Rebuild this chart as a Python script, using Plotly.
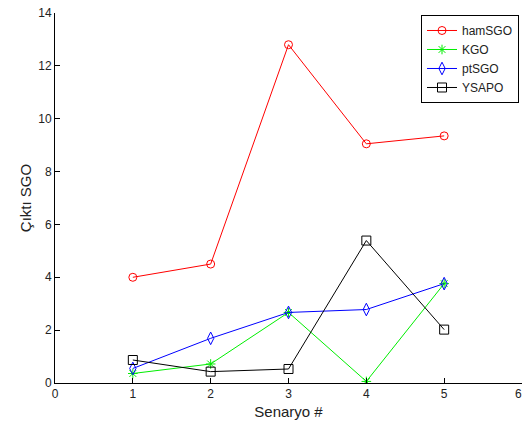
import plotly.graph_objects as go

scenarios = [1, 2, 3, 4, 5]
ham_sgo = [4.0, 4.5, 12.8, 9.05, 9.35]
kgo = [0.36, 0.72, 2.67, 0.06, 3.76]
pt_sgo = [0.55, 1.69, 2.67, 2.78, 3.76]
ysapo = [0.87, 0.43, 0.53, 5.39, 2.02]

x_ticks = [0, 1, 2, 3, 4, 5, 6]
y_ticks = [0, 2, 4, 6, 8, 10, 12, 14]

series = [
    ("hamSGO", ham_sgo, "#ff0000", "circle-open", 8),
    ("KGO", kgo, "#00ee00", "asterisk-open", 8),
    ("ptSGO", pt_sgo, "#0000ff", "diamond-tall-open", 9),
    ("YSAPO", ysapo, "#000000", "square-open", 9),
]

fig = go.Figure()
for name, vals, col, sym, sz in series:
    fig.add_trace(go.Scatter(
        x=scenarios, y=vals, name=name, mode="lines+markers",
        line=dict(color=col, width=1),
        marker=dict(symbol=sym, size=sz, color=col, line=dict(color=col, width=1)),
    ))

font = "Liberation Sans, Arial, sans-serif"
fig.update_layout(
    width=523, height=428,
    margin=dict(l=55, r=1, t=13, b=45),
    paper_bgcolor="white", plot_bgcolor="white",
    font=dict(family=font, size=12, color="#222"),
    showlegend=True,
    legend=dict(
        x=0.9936, y=0.9946, xanchor="right", yanchor="top",
        bgcolor="white", bordercolor="black", borderwidth=1,
        font=dict(family=font, size=12, color="#222"),
        tracegroupgap=0,
    ),
    xaxis=dict(
        range=[0, 6], tickvals=x_ticks[:-1], ticktext=[str(v) for v in x_ticks[:-1]],
        showgrid=False, zeroline=False, showline=True, linecolor="black", linewidth=1,
        ticks="inside", ticklen=5, tickcolor="black",
        title=dict(text="Senaryo #", font=dict(size=15, color="#222"), standoff=6),
    ),
    yaxis=dict(
        range=[0, 14], tickvals=y_ticks, ticktext=[str(v) for v in y_ticks],
        showgrid=False, zeroline=False, showline=True, linecolor="black", linewidth=1,
        ticks="inside", ticklen=5, tickcolor="black",
        title=dict(text="Çıktı SGO", font=dict(size=15, color="#222"), standoff=2),
    ),
)

# last x tick label (at the right edge), kept fully inside the page
fig.add_annotation(
    x=x_ticks[-1], y=0, xref="x", yref="paper", yanchor="top", xanchor="right",
    yshift=-2, xshift=2, text=str(x_ticks[-1]), showarrow=False,
    font=dict(family=font, size=12, color="#222"),
)

fig.write_html("out.html")
